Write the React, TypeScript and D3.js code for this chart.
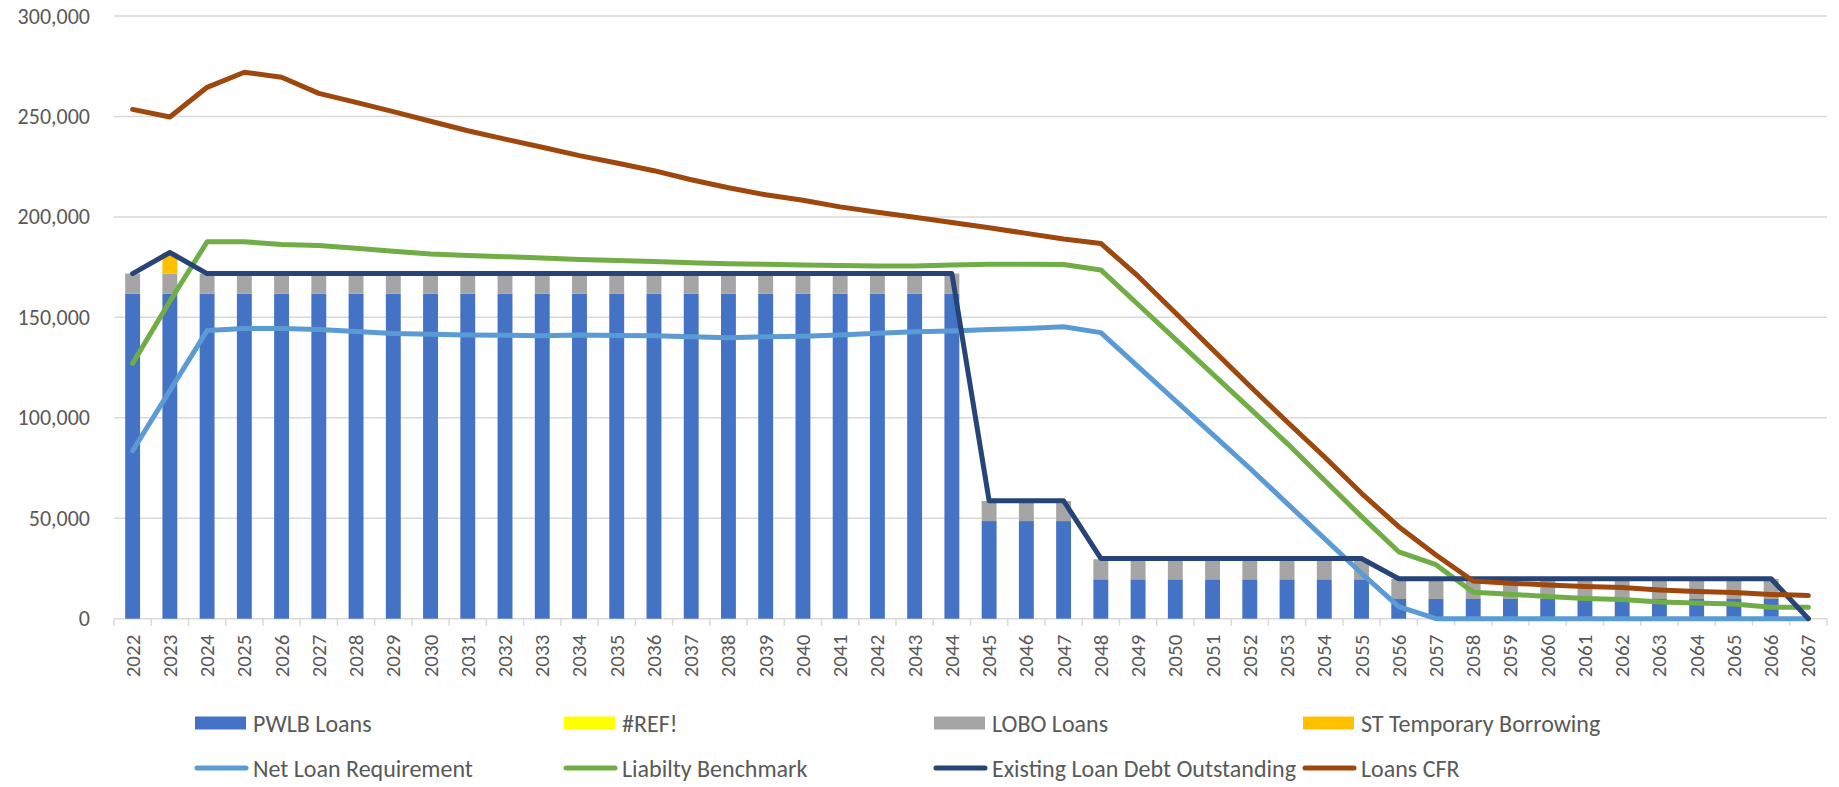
import React from 'react';
import * as d3 from 'd3';

// categories
const years = d3.range(2022, 2068).map(String);

// stacked bars
const pwlbLoans = [
  161800, 161800, 161800, 161800, 161800, 161800, 161800, 161800, 161800, 161800,
  161800, 161800, 161800, 161800, 161800, 161800, 161800, 161800, 161800, 161800,
  161800, 161800, 161800,
  48600, 48600, 48600,
  19600, 19600, 19600, 19600, 19600, 19600, 19600, 19600,
  9800, 9800, 9800, 9800, 9800, 9800, 9800, 9800, 9800, 9800, 9800,
  0,
];
const refErr = years.map(() => 0);
const loboLoans = [
  10000, 10000, 10000, 10000, 10000, 10000, 10000, 10000, 10000, 10000,
  10000, 10000, 10000, 10000, 10000, 10000, 10000, 10000, 10000, 10000,
  10000, 10000, 10000, 10000, 10000, 10000, 10000, 10000, 10000, 10000,
  10000, 10000, 10000, 10000, 10000, 10000, 10000, 10000, 10000, 10000,
  10000, 10000, 10000, 10000, 10000,
  0,
];
const stTemporary = [
  0, 10300, 0, 0, 0, 0, 0, 0, 0, 0, 0, 0, 0, 0, 0, 0, 0, 0, 0, 0, 0, 0, 0,
  0, 0, 0, 0, 0, 0, 0, 0, 0, 0, 0, 0, 0, 0, 0, 0, 0, 0, 0, 0, 0, 0, 0,
];

// lines
const netLoanRequirement = [
  83600, 113500, 143400, 144500, 144500, 144000, 142900, 142000, 141600, 141200,
  141100, 140900, 141200, 141000, 140800, 140300, 139900, 140300, 140600, 141200,
  142100, 142800, 143200, 143900, 144500, 145300, 142400, 125500, 108600, 91800,
  74900, 57400, 40000, 22600, 6000, 0, 0, 0, 0, 0, 0, 0, 0, 0, 0, 0,
];
const liabilityBenchmark = [
  127100, 158000, 187600, 187600, 186300, 185800, 184400, 182900, 181500, 180800,
  180200, 179600, 178800, 178300, 177800, 177200, 176700, 176400, 176100, 175800,
  175600, 175600, 176000, 176400, 176400, 176300, 173600, 156400, 139200, 121900,
  104700, 87300, 69000, 50800, 33300, 26900, 13200, 12200, 11000, 10100,
  9600, 8300, 7800, 7300, 5700, 5700,
];
const existingDebt = [
  171800, 182300, 171800, 171800, 171800, 171800, 171800, 171800, 171800, 171800,
  171800, 171800, 171800, 171800, 171800, 171800, 171800, 171800, 171800, 171800,
  171800, 171800, 171800,
  58700, 58700, 58700,
  30000, 30000, 30000, 30000, 30000, 30000, 30000, 30000,
  19900, 19900, 19900, 19900, 19900, 19900, 19900, 19900, 19900, 19900, 19900,
  0,
];
const loansCFR = [
  253500, 249700, 264500, 272000, 269500, 261500, 257000, 252400, 247600, 242900,
  238700, 234700, 230500, 226800, 223000, 218500, 214500, 211000, 208300, 205000,
  202300, 199800, 197200, 194600, 191800, 189000, 186800, 170500, 152300, 134000,
  115800, 98000, 80600, 62400, 45800, 31700, 18800, 17700, 16800, 16000,
  15500, 14300, 13500, 13000, 12100, 11500,
];

const yTicks = [0, 50000, 100000, 150000, 200000, 250000, 300000];

const barSeries = [
  { name: 'PWLB Loans', values: pwlbLoans, color: '#4472C4' },
  { name: '#REF!', values: refErr, color: '#FFFF00' },
  { name: 'LOBO Loans', values: loboLoans, color: '#A5A5A5' },
  { name: 'ST Temporary Borrowing', values: stTemporary, color: '#FFC000' },
];
const lineSeries = [
  { name: 'Net Loan Requirement', values: netLoanRequirement, color: '#5B9BD5' },
  { name: 'Liabilty Benchmark', values: liabilityBenchmark, color: '#70AD47' },
  { name: 'Existing Loan Debt Outstanding', values: existingDebt, color: '#264478' },
  { name: 'Loans CFR', values: loansCFR, color: '#9E480E' },
];

const W = 1839;
const H = 787;
const font = "Carlito, Calibri, Lato, sans-serif";
const textColor = '#595959';
const gridColor = '#D9D9D9';

export default function App() {
  const left = 114, right = 1827, top = 16, bottom = 618.7;

  const x = d3.scaleBand<string>().domain(years).range([left, right]).padding(0);
  const y = d3.scaleLinear().domain([0, 300000]).range([bottom, top]);
  const barW = x.bandwidth() * 0.4;

  const table = years.map((yr, i) => {
    const row: any = { year: yr };
    barSeries.forEach(s => { row[s.name] = s.values[i]; });
    return row;
  });
  const stacked = d3.stack<any>().keys(barSeries.map(s => s.name))(table);

  const cx = (i: number) => (x(years[i]) as number) + x.bandwidth() / 2;
  const line = d3.line<number>().x((_, i) => cx(i)).y(d => y(d));

  const legendCols = [195, 564, 934, 1303];
  const legendRows = [723, 768];

  return (
    <svg width={W} height={H} style={{ position: 'absolute', left: 0, top: 0, background: '#fff' }}
      fontFamily={font}>
      {/* gridlines */}
      {yTicks.map(t => (
        <line key={t} x1={left} x2={right} y1={y(t)} y2={y(t)} stroke={gridColor} strokeWidth={1.5} />
      ))}
      {yTicks.map(t => (
        <text key={'l' + t} x={90} y={y(t)} textAnchor="end" dominantBaseline="central"
          fontSize={22} fill={textColor}>{d3.format(',')(t)}</text>
      ))}

      {/* x axis ticks */}
      {years.concat(['end']).map((yr, i) => {
        const xx = left + i * x.bandwidth();
        return <line key={'t' + i} x1={xx} x2={xx} y1={bottom} y2={bottom + 7} stroke={gridColor} strokeWidth={1.5} />;
      })}
      {years.map((yr, i) => (
        <text key={'x' + yr} transform={`translate(${cx(i)},${bottom + 16}) rotate(-90)`}
          textAnchor="end" dominantBaseline="central" fontSize={21} fill={textColor}>{yr}</text>
      ))}

      {/* bars */}
      {stacked.map((layer, k) => (
        <g key={layer.key} fill={barSeries[k].color}>
          {layer.map((d, i) => d[1] - d[0] > 0 ? (
            <rect key={i} x={cx(i) - barW / 2} width={barW} y={y(d[1])} height={y(d[0]) - y(d[1])} />
          ) : null)}
        </g>
      ))}

      {/* lines */}
      {lineSeries.map(s => (
        <path key={s.name} d={line(s.values) as string} fill="none" stroke={s.color}
          strokeWidth={5} strokeLinejoin="round" strokeLinecap="round" />
      ))}

      {/* legend */}
      {barSeries.map((s, i) => (
        <g key={'lb' + s.name} transform={`translate(${legendCols[i]},${legendRows[0]})`}>
          <rect x={0} y={-6.5} width={51} height={13} fill={s.color} />
          <text x={58} y={0} dominantBaseline="central" fontSize={24} fill={textColor}>{s.name}</text>
        </g>
      ))}
      {lineSeries.map((s, i) => (
        <g key={'ll' + s.name} transform={`translate(${legendCols[i]},${legendRows[1]})`}>
          <line x1={2} x2={51} y1={0} y2={0} stroke={s.color} strokeWidth={5} strokeLinecap="round" />
          <text x={58} y={0} dominantBaseline="central" fontSize={24} fill={textColor}>{s.name}</text>
        </g>
      ))}
    </svg>
  );
}
